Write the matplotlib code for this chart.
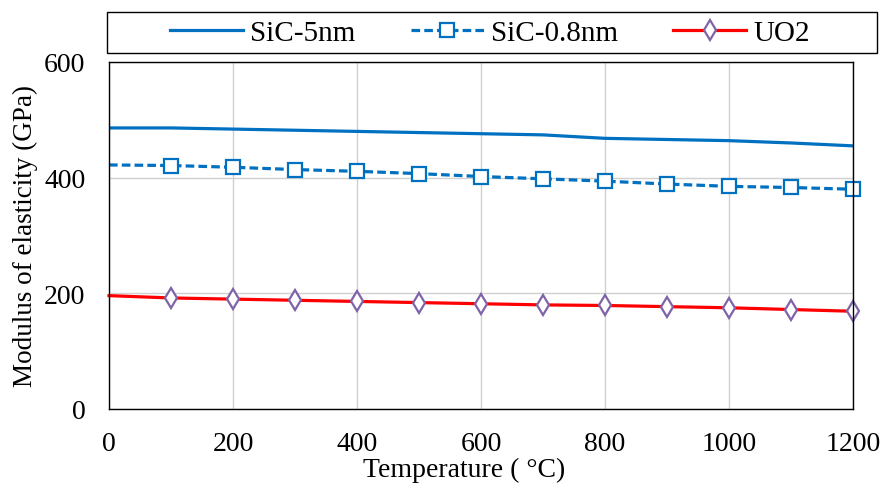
import numpy as np
import matplotlib.pyplot as plt
from matplotlib.lines import Line2D
from matplotlib.patches import Rectangle

# ==== Data ====
temperature = [0, 100, 200, 300, 400, 500, 600, 700, 800, 900, 1000, 1100, 1200]
sic_5nm = [486, 486, 484, 482, 480, 478, 476, 474, 468, 466, 464, 460, 455]
sic_08nm = [422, 421, 418, 414, 411, 407, 402, 398, 394, 389, 385, 383, 380]
uo2 = [196, 192, 190, 188, 186, 184, 182, 180, 179, 177, 175, 172, 169]

x_ticks = [0, 200, 400, 600, 800, 1000, 1200]
y_ticks = [0, 200, 400, 600]

# ==== Plot settings ====
plt.rcParams.update({'font.family': 'Liberation Serif', 'font.size': 20})

blue = '#0070C0'
red = '#FF0000'
purple = '#7F63A8'
dash = (0, (2.7, 1.3))

W, H = 882, 489
fig = plt.figure(figsize=(W / 100, H / 100), dpi=100)
ax = fig.add_axes([109 / W, 1 - 410 / H, (853 - 109) / W, (410 - 63) / H])

ax.plot(temperature, sic_5nm, color=blue, linewidth=2.3, label='SiC-5nm')
ax.plot(temperature, sic_08nm, color=blue, linewidth=2.3, linestyle=dash,
        marker='s', markersize=9.5, markerfacecolor='white', markeredgecolor=blue,
        markeredgewidth=1.6, markevery=list(range(1, len(temperature))),
        label='SiC-0.8nm', clip_on=False)
ax.plot(temperature, uo2, color=red, linewidth=2.3,
        marker='d', markersize=10, markerfacecolor='white', markeredgecolor=purple,
        markeredgewidth=1.6, markevery=list(range(1, len(temperature))),
        label='UO2', clip_on=False)

ax.set_xlim(0, 1200)
ax.set_ylim(0, 600)
ax.set_xticks(x_ticks)
ax.set_yticks(y_ticks)
ax.tick_params(axis='x', length=0, pad=16)
ax.tick_params(axis='y', length=0, pad=17)
ax.grid(True, color='#D0D0D0', linewidth=1)
ax.set_axisbelow(True)
for s in ax.spines.values():
    s.set_color('black')
    s.set_linewidth(1)

ax.set_xlabel('Temperature ( °C)', fontsize=20)
# label anchored at its top edge
ax.xaxis.set_label_coords((464 - 109) / 744, -(458 - 410) / 347)
ax.set_ylabel('Modulus of elasticity (GPa)', fontsize=19.5, labelpad=4)

# legend box spans wider than its entries, so draw frame separately
fig.patches.append(Rectangle((107 / W, 1 - 54 / H), (877 - 107) / W, 41 / H,
                             transform=fig.transFigure, fill=False,
                             edgecolor='black', linewidth=1))
legend_lines = [
    Line2D([0], [0], color=blue, linewidth=2.3, label='SiC-5nm'),
    Line2D([0], [0], color=blue, linewidth=2.3, linestyle=dash, marker='s',
           markersize=9.5, markerfacecolor='white', markeredgecolor=blue,
           markeredgewidth=1.6, label='SiC-0.8nm'),
    Line2D([0], [0], color=red, linewidth=2.3, marker='d', markersize=10,
           markerfacecolor='white', markeredgecolor=purple, markeredgewidth=1.6,
           label='UO2'),
]
fig.legend(handles=legend_lines, loc='center',
           bbox_to_anchor=(490 / W, 1 - 34 / H),
           ncol=3, frameon=False, fontsize=21, handlelength=2.5,
           columnspacing=1.9, handletextpad=0.25, borderpad=0)

fig.savefig('out.png', dpi=100)
